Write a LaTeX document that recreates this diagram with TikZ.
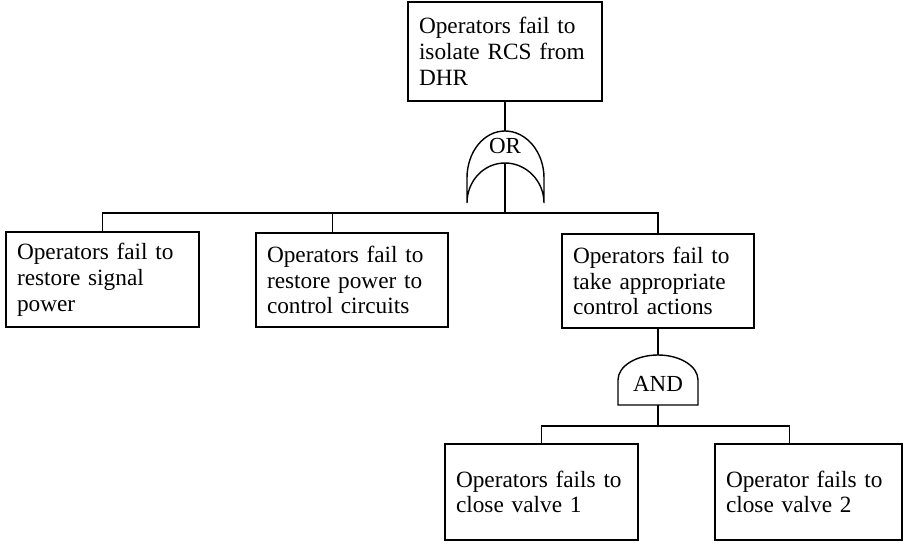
\documentclass[tikz,border=0pt]{standalone}
\usepackage{fontspec}
\setmainfont{Liberation Serif}
\usetikzlibrary{calc}
\begin{document}
\begin{tikzpicture}[x=1pt,y=-1pt,line width=1.4pt,
  evbox/.style={draw, rectangle, inner xsep=11pt, inner ysep=0pt, align=left,
    font=\fontsize{23.3}{25.8}\selectfont},
  gatelabel/.style={inner sep=0pt, font=\fontsize{23}{26}\selectfont}]
  \useasboundingbox (0,0) rectangle (904,543);

  % event boxes
  \node[evbox, text width=172pt, minimum width=194pt, minimum height=99pt] (top) at (505,51.5)
    {Operators fail to\\isolate RCS from\\DHR};
  \node[evbox, text width=171pt, minimum width=193pt, minimum height=95pt] (box1) at (102.5,279.5)
    {Operators fail to\\restore signal\\power};
  \node[evbox, text width=170pt, minimum width=192pt, minimum height=94pt] (box2) at (352,280)
    {Operators fail to\\restore power to\\control circuits};
  \node[evbox, text width=170pt, minimum width=192pt, minimum height=94pt] (box3) at (658,281)
    {Operators fail to\\take appropriate\\control actions};
  \node[evbox, text width=171pt, minimum width=193pt, minimum height=96pt] (box4) at (541.5,492)
    {Operators fails to\\close valve 1};
  \node[evbox, text width=165pt, minimum width=187pt, minimum height=96pt] (box5) at (808.5,492)
    {Operator fails to\\close valve 2};

  % OR gate
  \coordinate (or-top) at (505,131);
  \coordinate (or-back) at (505,163);
  \draw (467,203) -- (467,178) .. controls (467,152) and (483.7,131) .. (or-top)
        .. controls (526.3,131) and (544,152) .. (544,178) -- (544,203)
        .. controls (544,181) and (526.3,163) .. (or-back)
        .. controls (483.7,163) and (467,181) .. (467,203);
  \node[gatelabel] (orlabel) at (505,146) {OR};

  % AND gate
  \coordinate (and-top) at (658,355);
  \coordinate (and-bot) at (658,405);
  \draw (618,380) .. controls (618,366.2) and (635.9,355) .. (and-top)
        .. controls (680.1,355) and (698,366.2) .. (698,380)
        -- (698,405) -- (and-bot) -- (618,405) -- cycle;
  \node[gatelabel] (andlabel) at (658,384) {AND};

  % connectors of the OR gate
  \coordinate (bar1) at (505,213);
  \coordinate (b2in) at ($(box2.north west)!0.4!(box2.north east)$);
  \draw (top.south) -- (or-top);
  \draw (or-back) -- (bar1);
  \draw (box1.north) |- (box3.north |- bar1) -- (box3.north);
  \draw (b2in) -- (b2in |- bar1);

  % connectors of the AND gate
  \coordinate (bar2) at (658,426);
  \coordinate (b5in) at ($(box5.north west)!0.4!(box5.north east)$);
  \draw (box3.south) -- (and-top);
  \draw (and-bot) -- (bar2);
  \draw (box4.north) |- (b5in |- bar2) -- (b5in);
\end{tikzpicture}
\end{document}
